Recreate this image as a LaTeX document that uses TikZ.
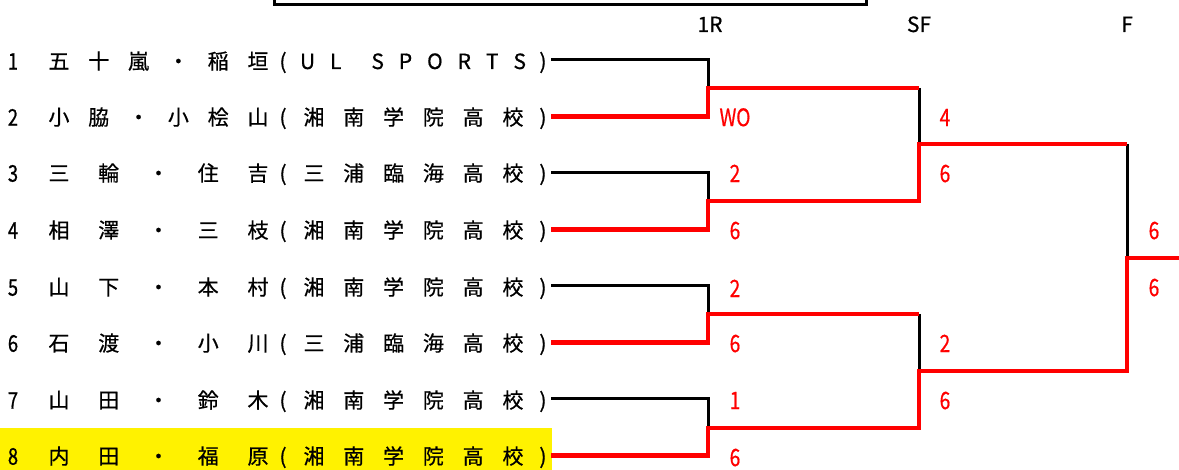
\documentclass[tikz,border=0pt]{standalone}
\usepackage{fontspec}
\setmainfont[FakeBold=0.6]{Noto Sans CJK JP}
\newfontfamily\narrowfont[FakeStretch=0.8,FakeBold=0.6]{Noto Sans CJK JP}
\usepackage{xcolor}
\usepackage{tikz}
\usetikzlibrary{positioning,calc}

\begin{document}
\begin{tikzpicture}[x=1pt, y=-1pt,
    entry/.style={inner sep=0pt, font=\fontsize{21}{25}\selectfont,
                  text height=18.5pt, text depth=2.5pt},
    seed/.style={inner sep=0pt, font=\narrowfont\fontsize{23}{27}\selectfont,
                 text height=20.2pt, text depth=2.8pt},
    stage/.style={inner sep=0pt, font=\fontsize{21}{25}\selectfont,
                  text height=18.5pt, text depth=2.5pt},
    score/.style={inner sep=0pt, text=red, font=\narrowfont\fontsize{24}{28}\selectfont,
                  text height=21.1pt, text depth=2.9pt},
    lose/.style={draw=black, line width=3pt},
    win/.style={draw=red, line width=4.8pt},
    titlebox/.style={draw=black, line width=3pt},
  ]
  \clip (0,0) rectangle (1179,470);

  % ===== Background: highlighted entry, title frame =====
  \fill[yellow] (0,428) rectangle (552,470);
  \draw[titlebox] (274,-5) |- (866,5) -- (866,-5);

  % Round headers
  \node[stage] (hd1) at (710,24) {1R};
  \node[stage] (hd2) at (919,24) {SF};
  \node[stage] (hd3) at (1127,24) {F};

  % ===== Entries =====
  \node[seed] (n1) at (13,61) {1};
  \node[entry] (a1) at (158.5,61) {\makebox[220pt][s]{五\hfill 十\hfill 嵐\hfill ・\hfill 稲\hfill 垣}};
  \node[entry] (o1) at (283,61) {(};
  \node[entry] (b1) at (413,61) {\makebox[226pt][s]{U\hfill L\hfill\hfill S\hfill P\hfill O\hfill R\hfill T\hfill S}};
  \node[entry] (c1) at (543,61) {)};

  \node[seed] (n2) at (13,117) {2};
  \node[entry] (a2) at (158.5,117) {\makebox[220pt][s]{小\hfill 脇\hfill ・\hfill 小\hfill 桧\hfill 山}};
  \node[entry] (o2) at (283,117) {(};
  \node[entry] (b2) at (413.5,117) {\makebox[220pt][s]{湘\hfill 南\hfill 学\hfill 院\hfill 高\hfill 校}};
  \node[entry] (c2) at (543,117) {)};

  \node[seed] (n3) at (13,173) {3};
  \node[entry] (a3) at (158.5,173) {\makebox[220pt][s]{三\hfill 輪\hfill ・\hfill 住\hfill 吉}};
  \node[entry] (o3) at (283,173) {(};
  \node[entry] (b3) at (413.5,173) {\makebox[220pt][s]{三\hfill 浦\hfill 臨\hfill 海\hfill 高\hfill 校}};
  \node[entry] (c3) at (543,173) {)};

  \node[seed] (n4) at (13,230) {4};
  \node[entry] (a4) at (158.5,230) {\makebox[220pt][s]{相\hfill 澤\hfill ・\hfill 三\hfill 枝}};
  \node[entry] (o4) at (283,230) {(};
  \node[entry] (b4) at (413.5,230) {\makebox[220pt][s]{湘\hfill 南\hfill 学\hfill 院\hfill 高\hfill 校}};
  \node[entry] (c4) at (543,230) {)};

  \node[seed] (n5) at (13,287) {5};
  \node[entry] (a5) at (158.5,287) {\makebox[220pt][s]{山\hfill 下\hfill ・\hfill 本\hfill 村}};
  \node[entry] (o5) at (283,287) {(};
  \node[entry] (b5) at (413.5,287) {\makebox[220pt][s]{湘\hfill 南\hfill 学\hfill 院\hfill 高\hfill 校}};
  \node[entry] (c5) at (543,287) {)};

  \node[seed] (n6) at (13,343) {6};
  \node[entry] (a6) at (158.5,343) {\makebox[220pt][s]{石\hfill 渡\hfill ・\hfill 小\hfill 川}};
  \node[entry] (o6) at (283,343) {(};
  \node[entry] (b6) at (413.5,343) {\makebox[220pt][s]{三\hfill 浦\hfill 臨\hfill 海\hfill 高\hfill 校}};
  \node[entry] (c6) at (543,343) {)};

  \node[seed] (n7) at (13,400) {7};
  \node[entry] (a7) at (158.5,400) {\makebox[220pt][s]{山\hfill 田\hfill ・\hfill 鈴\hfill 木}};
  \node[entry] (o7) at (283,400) {(};
  \node[entry] (b7) at (413.5,400) {\makebox[220pt][s]{湘\hfill 南\hfill 学\hfill 院\hfill 高\hfill 校}};
  \node[entry] (c7) at (543,400) {)};

  \node[seed] (n8) at (13,456) {8};
  \node[entry] (a8) at (158.5,456) {\makebox[220pt][s]{内\hfill 田\hfill ・\hfill 福\hfill 原}};
  \node[entry] (o8) at (283,456) {(};
  \node[entry] (b8) at (413.5,456) {\makebox[220pt][s]{湘\hfill 南\hfill 学\hfill 院\hfill 高\hfill 校}};
  \node[entry] (c8) at (543,456) {)};

  % ===== Bracket points =====
  \coordinate (e1) at (551,60);
  \coordinate (e2) at (551,116.5);
  \coordinate (e3) at (551,173);
  \coordinate (e4) at (551,229.5);
  \coordinate (e5) at (551,286);
  \coordinate (e6) at (551,342.5);
  \coordinate (e7) at (551,399);
  \coordinate (e8) at (551,455.5);

  \coordinate (q1) at (708,88);
  \coordinate (q2) at (708,201);
  \coordinate (q3) at (708,314);
  \coordinate (q4) at (708,428);
  \coordinate (h1) at (919,144);
  \coordinate (h2) at (919,371);
  \coordinate (f1) at (1127,258);
  \coordinate (w1) at (1179,258);

  % Losers (black)
  \draw[lose] (e1) -| (q1);
  \draw[lose] (e3) -| (q2);
  \draw[lose] (e5) -| (q3);
  \draw[lose] (e7) -| (q4);
  \draw[lose] (q1 -| h1) -- (h1);
  \draw[lose] (q3 -| h2) -- (h2);
  \draw[lose] (h1 -| f1) -- (f1);

  % Winners (red)
  \draw[win] (e2) -| (q1) -- (q1 -| h1);
  \draw[win] (e4) -| (q2) -- (q2 -| h1) -- (h1) -- (h1 -| f1);
  \draw[win] (e6) -| (q3) -- (q3 -| h2);
  \draw[win] (e8) -| (q4) -- (q4 -| h2) -- (h2) -- (h2 -| f1) -- (f1) -- (w1);

  % ===== Scores =====
  \node[score] (s11) at (735,117) {WO};
  \node[score] (s12) at (735,173) {2};
  \node[score] (s13) at (735,230) {6};
  \node[score] (s14) at (735,288) {2};
  \node[score] (s15) at (735,343) {6};
  \node[score] (s16) at (735,400) {1};
  \node[score] (s17) at (735,457) {6};

  \node[score] (s21) at (945,117) {4};
  \node[score] (s22) at (945,173) {6};
  \node[score] (s23) at (945,343) {2};
  \node[score] (s24) at (945,400) {6};

  \node[score] (s31) at (1154,230) {6};
  \node[score] (s32) at (1154,287) {6};

\end{tikzpicture}
\end{document}
